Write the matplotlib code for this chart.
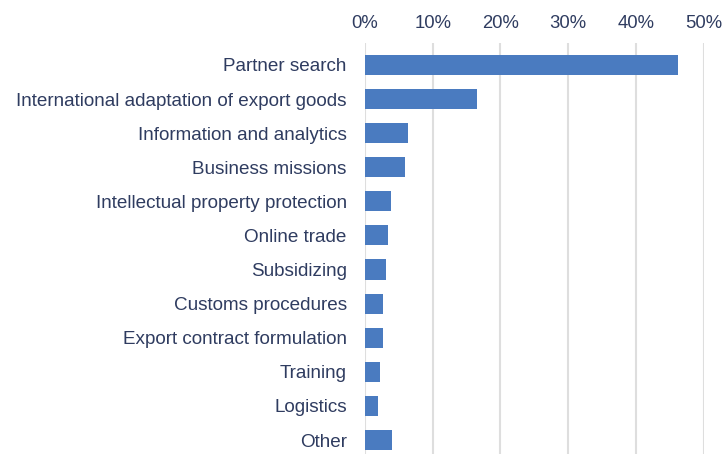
"""Horizontal bar chart of export support demand by service type."""

import matplotlib.pyplot as plt
from matplotlib.ticker import FuncFormatter

categories = [
    "Partner search",
    "International adaptation of export goods",
    "Information and analytics",
    "Business missions",
    "Intellectual property protection",
    "Online trade",
    "Subsidizing",
    "Customs procedures",
    "Export contract formulation",
    "Training",
    "Logistics",
    "Other",
]
shares = [46.2, 16.5, 6.3, 5.9, 3.8, 3.4, 3.1, 2.7, 2.7, 2.3, 1.9, 4.0]
x_ticks = [0, 10, 20, 30, 40, 50]

bar_color = "#4a7bc0"
text_color = "#2f3c60"
grid_color = "#dedede"

plt.rcParams["font.family"] = ["Liberation Sans", "DejaVu Sans"]

fig = plt.figure(figsize=(7.24, 4.54), dpi=100)
ax = fig.add_axes([0.504, 0.0, 0.468, 0.905])

y = list(range(len(categories)))
ax.barh(y, shares, height=0.59, color=bar_color, zorder=3)

ax.set_xlim(0, 50)
ax.set_ylim(len(categories) - 0.59, -0.64)
ax.set_yticks(y)
ax.set_yticklabels(categories)
ax.set_xticks(x_ticks)
ax.xaxis.set_major_formatter(FuncFormatter(lambda v, _: f"{v:.0f}%"))

ax.xaxis.tick_top()
ax.tick_params(axis="x", length=0, pad=8, labelsize=13.3, labelcolor=text_color)
ax.tick_params(axis="y", length=0, pad=13, labelsize=13.6, labelcolor=text_color)
ax.grid(axis="x", color=grid_color, linewidth=1.5, zorder=0)
for spine in ax.spines.values():
    spine.set_visible(False)

fig.savefig("out.png", dpi=100)
